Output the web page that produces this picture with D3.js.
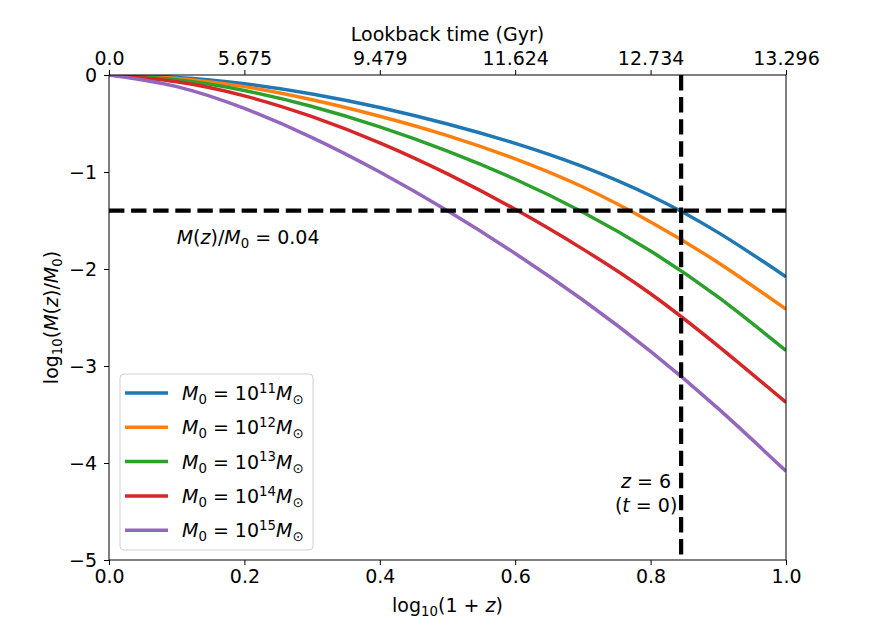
<!DOCTYPE html>
<html>
<head>
<meta charset="utf-8">
<script src="https://cdn.jsdelivr.net/npm/d3@7"></script>
<style>
  body { margin: 0; background: #fff; }
  text { font-family: "DejaVu Sans", sans-serif; fill: #000; }
</style>
</head>
<body>
<div id="chart"></div>
<script>
// values: log10(1+z) and log10(M(z)/M0) per halo mass
const xVals = [0, 0.1, 0.2, 0.3, 0.4, 0.5, 0.6, 0.7, 0.8, 0.9, 1.0];
const m11 = [0, -0.025, -0.09, -0.195, -0.335, -0.505, -0.705, -0.945, -1.245, -1.625, -2.08];
const m12 = [0, -0.035, -0.12, -0.255, -0.425, -0.625, -0.865, -1.155, -1.515, -1.935, -2.415];
const m13 = [0, -0.05, -0.16, -0.325, -0.535, -0.785, -1.075, -1.415, -1.815, -2.29, -2.84];
const m14 = [0, -0.07, -0.215, -0.43, -0.70, -1.02, -1.385, -1.795, -2.255, -2.795, -3.375];
const m15 = [0, -0.12, -0.345, -0.645, -1.00, -1.40, -1.84, -2.32, -2.85, -3.44, -4.085];
const massExps = ["11", "12", "13", "14", "15"];
const colors = ["#1f77b4", "#ff7f0e", "#2ca02c", "#d62728", "#9467bd"];

const bottomTicks = [0, 0.2, 0.4, 0.6, 0.8, 1.0];
const topTickLabels = ["0.0", "5.675", "9.479", "11.624", "12.734", "13.296"];
const yTicks = [0, -1, -2, -3, -4, -5];

const fracLevel = Math.log10(0.04);   // horizontal marker
const zMark = Math.log10(1 + 6);      // vertical marker, z = 6

const W = 873, H = 629;
const margin = { top: 75, right: 87, bottom: 69, left: 109 };
const width = W - margin.left - margin.right;
const height = H - margin.top - margin.bottom;
const FS = 19;

const svg = d3.select("#chart").append("svg")
    .attr("width", W)
    .attr("height", H);

const g = svg.append("g")
    .attr("transform", `translate(${margin.left},${margin.top})`);

const x = d3.scaleLinear().domain([0, 1]).range([0, width]);
const y = d3.scaleLinear().domain([-5, 0]).range([height, 0]);

// mathtext-ish helper: parts = [[text, "i"|"n", "sub"|"sup"|null]]
function mathText(sel, parts, size) {
    let shift = 0;
    parts.forEach(([t, st, pos]) => {
        let target = pos === "sub" ? size * 0.22 : pos === "sup" ? -size * 0.38 : 0;
        sel.append("tspan")
            .attr("dy", target - shift)
            .style("font-style", st === "i" ? "italic" : "normal")
            .style("font-size", pos ? size * 0.7 + "px" : size + "px")
            .text(t);
        shift = target;
    });
}

g.append("clipPath").attr("id", "clip")
    .append("rect").attr("width", width).attr("height", height);

const series = [m11, m12, m13, m14, m15];
const line = d3.line()
    .x((d, i) => x(xVals[i]))
    .y(d => y(d))
    .curve(d3.curveNatural);

g.append("g").attr("clip-path", "url(#clip)")
    .selectAll("path")
    .data(series)
    .enter().append("path")
    .attr("d", d => line(d))
    .attr("fill", "none")
    .attr("stroke", (d, i) => colors[i])
    .attr("stroke-width", 3.5);

// dashed markers
g.append("line")
    .attr("x1", 0).attr("x2", width)
    .attr("y1", y(fracLevel)).attr("y2", y(fracLevel))
    .attr("stroke", "#000").attr("stroke-width", 4.2)
    .attr("stroke-dasharray", "15.4,6.7");
g.append("line")
    .attr("x1", x(zMark)).attr("x2", x(zMark))
    .attr("y1", 0).attr("y2", height)
    .attr("stroke", "#000").attr("stroke-width", 4.2)
    .attr("stroke-dasharray", "15.4,6.7");

// axes
const xAxis = g.append("g")
    .attr("transform", `translate(0,${height})`)
    .call(d3.axisBottom(x).tickValues(bottomTicks).tickFormat(d3.format(".1f")).tickSizeOuter(0).tickSize(5).tickPadding(5));
const xTop = g.append("g")
    .call(d3.axisTop(x).tickValues(bottomTicks).tickFormat((d, i) => topTickLabels[i]).tickSizeOuter(0).tickSize(5).tickPadding(5));
const yAxis = g.append("g")
    .call(d3.axisLeft(y).tickValues(yTicks).tickFormat(d => d === 0 ? "0" : "\u2212" + Math.abs(d)).tickSizeOuter(0).tickSize(5).tickPadding(7));

[xAxis, xTop, yAxis].forEach(a => {
    a.selectAll("text").style("font-size", FS + "px").style("font-family", "DejaVu Sans");
    a.selectAll("line").attr("stroke", "#000").attr("stroke-width", 1);
    a.selectAll("path").remove();
});
g.append("rect").attr("width", width).attr("height", height)
    .attr("fill", "none").attr("stroke", "#000").attr("stroke-width", 1);

// axis titles
const xl = svg.append("text")
    .attr("x", margin.left + width / 2).attr("y", 612)
    .attr("text-anchor", "middle");
mathText(xl, [["log", "n"], ["10", "n", "sub"], ["(1 + ", "n"], ["z", "i"], [")", "n"]], FS);

svg.append("text")
    .attr("x", margin.left + width / 2).attr("y", 41)
    .attr("text-anchor", "middle")
    .style("font-size", FS + "px")
    .text("Lookback time (Gyr)");

const yl = svg.append("text")
    .attr("transform", `translate(58,${margin.top + height / 2}) rotate(-90)`)
    .attr("text-anchor", "middle");
mathText(yl, [["log", "n"], ["10", "n", "sub"], ["(", "n"], ["M", "i"], ["(", "n"], ["z", "i"], [")/", "n"], ["M", "i"], ["0", "n", "sub"], [")", "n"]], FS);

// annotations
const ann = g.append("text")
    .attr("x", x(0.1)).attr("y", y(-1.74));
mathText(ann, [["M", "i"], ["(", "n"], ["z", "i"], [")/", "n"], ["M", "i"], ["0", "n", "sub"], [" = 0.04", "n"]], FS);

const zx = x(zMark) - 35;
g.append("text").attr("x", zx).attr("y", 413).attr("text-anchor", "middle")
    .call(t => mathText(t, [["z", "i"], [" = 6", "n"]], FS));
g.append("text").attr("x", zx).attr("y", 437).attr("text-anchor", "middle")
    .call(t => mathText(t, [["(", "n"], ["t", "i"], [" = 0)", "n"]], FS));

// legend
const legend = svg.append("g").attr("transform", "translate(120,374)");
legend.append("rect")
    .attr("width", 193).attr("height", 176)
    .attr("rx", 4).attr("ry", 4)
    .attr("fill", "#fff").attr("fill-opacity", 0.8)
    .attr("stroke", "#d0d0d0").attr("stroke-width", 1);

legend.selectAll(".legend-item")
    .data(massExps)
    .enter().append("g")
    .attr("class", "legend-item")
    .attr("transform", (d, i) => `translate(0,${19 + i * 34.3})`)
    .each(function(d, i) {
        const item = d3.select(this);
        item.append("line")
            .attr("x1", 5).attr("x2", 48)
            .attr("stroke", colors[i]).attr("stroke-width", 3.5);
        const t = item.append("text").attr("x", 62).attr("y", 7);
        mathText(t, [["M", "i"], ["0", "n", "sub"], [" = 10", "n"], [d, "n", "sup"], ["M", "i"], ["\u2299", "n", "sub"]], FS);
    });
</script>
</body>
</html>
